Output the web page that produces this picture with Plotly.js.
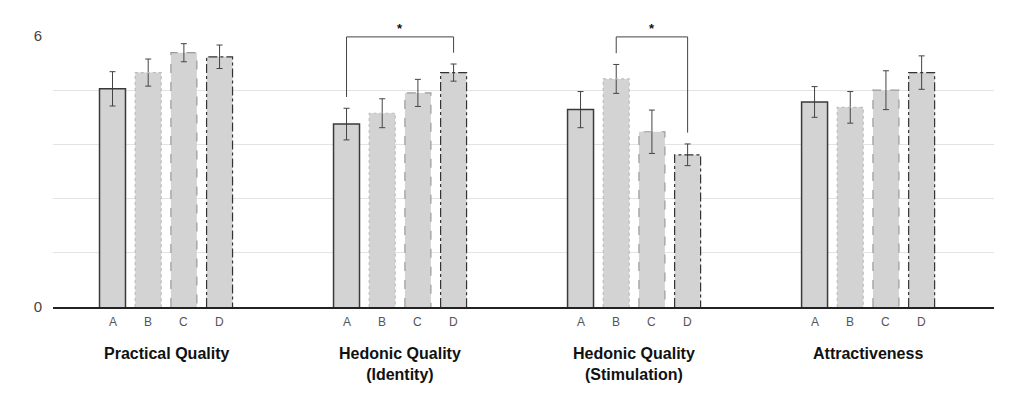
<!DOCTYPE html>
<html>
<head>
<meta charset="utf-8">
<script src="https://cdn.plot.ly/plotly-3.0.1.min.js"></script>
<style>html,body{margin:0;padding:0;background:#fff;}#chart{width:1010px;height:402px;}</style>
</head>
<body>
<div id="chart"></div>
<script>
// ---- data ----
const groups = ["Practical Quality", "Hedonic Quality<br>(Identity)", "Hedonic Quality<br>(Stimulation)", "Attractiveness"];
const letters = ["A", "B", "C", "D"];
const meanA = [4.83, 4.05, 4.37, 4.54];
const meanB = [5.19, 4.29, 5.05, 4.42];
const meanC = [5.63, 4.74, 3.88, 4.80];
const meanD = [5.54, 5.19, 3.37, 5.19];
const errA = [0.38, 0.35, 0.40, 0.34];
const errB = [0.30, 0.32, 0.32, 0.35];
const errC = [0.20, 0.30, 0.48, 0.43];
const errD = [0.26, 0.19, 0.24, 0.37];
const yTickVals = [0, 1.2, 2.4, 3.6, 4.8, 6];
const yTickText = ["0", "", "", "", "", "6"];
// significance brackets: group index, letter index from, letter index to, label
const sigGroup = [1, 2];
const sigFrom = [0, 1];
const sigTo = [3, 3];
const sigLabel = ["*", "*"];

// ---- styling ----
const means = [meanA, meanB, meanC, meanD];
const errs = [errA, errB, errC, errD];
const slot = 0.1525, barW = 0.111;
const outlineStyle = [
  {color: "#3a3a3a", dash: "solid", width: 1.5},
  {color: "#bdbdbd", dash: "dot", width: 1.2},
  {color: "#9a9a9a", dash: "dash", width: 1.2},
  {color: "#333333", dash: "dashdot", width: 1.2}
];
const pos = (g, k) => g + (k - 1.5) * slot;

const traces = [];
means.forEach((m, k) => {
  const xs = m.map((_, g) => pos(g, k));
  traces.push({
    type: "bar", x: xs, y: m, width: barW,
    marker: {color: "#d3d3d3", line: {width: 0}},
    error_y: {type: "data", array: errs[k], visible: true, color: "#444", thickness: 1, width: 3},
    showlegend: false, hoverinfo: "skip"
  });
});
// outlines
means.forEach((m, k) => {
  const ox = [], oy = [];
  m.forEach((v, g) => {
    const c = pos(g, k), l = c - barW / 2, r = c + barW / 2;
    ox.push(l, l, r, r, null);
    oy.push(0, v, v, 0, null);
  });
  traces.push({type: "scatter", mode: "lines", x: ox, y: oy, line: outlineStyle[k],
    showlegend: false, hoverinfo: "skip", cliponaxis: false});
});
// brackets
const annotations = [];
sigGroup.forEach((g, i) => {
  const a = sigFrom[i], b = sigTo[i];
  const xa = pos(g, a), xb = pos(g, b);
  const ya = means[a][g] + errs[a][g] + 0.25, yb = means[b][g] + errs[b][g] + 0.25;
  traces.push({type: "scatter", mode: "lines", x: [xa, xa, xb, xb], y: [ya, 5.98, 5.98, yb],
    line: {color: "#444", width: 1}, showlegend: false, hoverinfo: "skip", cliponaxis: false});
  annotations.push({x: (xa + xb) / 2, y: 5.98, xref: "x", yref: "y", text: "<b>" + sigLabel[i] + "</b>",
    showarrow: false, yanchor: "middle", yshift: 8, font: {size: 13, color: "#111", family: "Liberation Sans, Arial"}});
});
// letter labels and group labels
groups.forEach((name, g) => {
  letters.forEach((L, k) => {
    annotations.push({x: pos(g, k), y: 0, xref: "x", yref: "y", text: L, showarrow: false,
      yanchor: "middle", yshift: -15, font: {size: 12, color: "#555", family: "Liberation Sans, Arial"}});
  });
  annotations.push({x: g, y: 0, xref: "x", yref: "paper", text: "<b>" + name + "</b>", showarrow: false,
    yanchor: "top", yshift: -36, font: {size: 16, color: "#111", family: "Liberation Sans, Arial"}});
});

const layout = {
  width: 1010, height: 402,
  margin: {l: 53, r: 16, t: 36, b: 95},
  paper_bgcolor: "#fff", plot_bgcolor: "#fff",
  barmode: "overlay",
  xaxis: {type: "linear", range: [-0.483, 3.538], showgrid: false, zeroline: false,
    showticklabels: false, ticks: "", showline: true, linecolor: "#222", linewidth: 2, fixedrange: true},
  yaxis: {range: [0, 6], tickvals: yTickVals, ticktext: yTickText, showgrid: true, gridcolor: "#e3e3e3",
    gridwidth: 1, zeroline: false, showline: false, ticks: "", ticklabelstandoff: 10,
    tickfont: {size: 15, color: "#444", family: "Liberation Sans, Arial"}, fixedrange: true},
  annotations: annotations,
  font: {family: "Liberation Sans, Arial"}
};
Plotly.newPlot("chart", traces, layout, {displayModeBar: false, staticPlot: true});
</script>
</body>
</html>
